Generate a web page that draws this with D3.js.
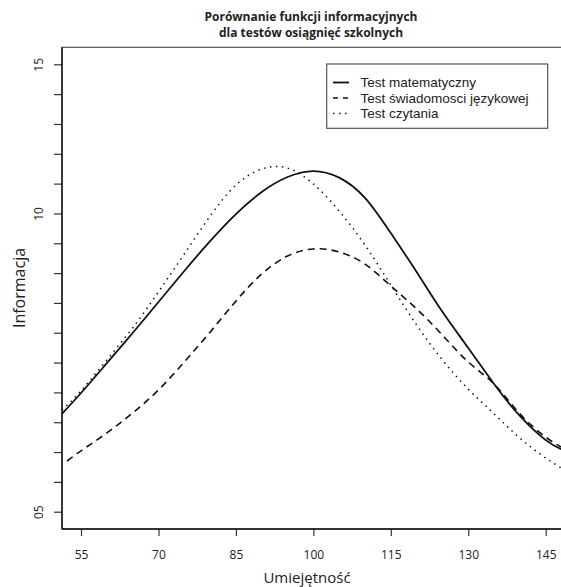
<!DOCTYPE html>
<html>
<head>
<meta charset="utf-8">
<script src="https://cdn.jsdelivr.net/npm/d3@7"></script>
<style>
  html, body { margin: 0; padding: 0; background: #fff; }
  svg { display: block; }
  text { font-family: "Open Sans", "Noto Sans", sans-serif; fill: #222; }
</style>
</head>
<body>
<svg id="chart" width="561" height="587"></svg>
<script>
// ---- data ----
const titleLines = ["Porównanie funkcji informacyjnych", "dla testów osiągnięć szkolnych"];
const xLabel = "Umiejętność";
const yLabel = "Informacja";
const xTicks = [55, 70, 85, 100, 115, 130, 145];
const yTickValues = [0,1,2,3,4,5,6,7,8,9,10,11,12,13,14,15];
const yTickLabels = ["05","","","","","","","","","","10","","","","","15"];
const seriesNames = ["Test matematyczny", "Test świadomosci językowej", "Test czytania"];

const xMath = [51.3, 55, 60, 65, 70, 75, 80, 85, 90, 95, 100, 105, 110, 115, 120, 125, 130, 135, 140, 145, 148];
const yMath = [3.28, 3.98, 4.98, 5.99, 7.03, 8.07, 9.07, 9.98, 10.72, 11.22, 11.42, 11.20, 10.52, 9.34, 8.04, 6.70, 5.49, 4.28, 3.21, 2.40, 2.10];

const xLang = [52.3, 55, 60, 65, 70, 75, 80, 85, 90, 95, 100, 105, 110, 115, 120, 125, 130, 135, 140, 145, 148];
const yLang = [1.70, 2.04, 2.64, 3.31, 4.08, 5.02, 6.02, 7.06, 7.97, 8.57, 8.81, 8.71, 8.30, 7.57, 6.80, 5.92, 5.02, 4.28, 3.28, 2.50, 2.17];

const xRead = [51.3, 55, 60, 65, 70, 75, 80, 85, 90, 95, 100, 105, 110, 115, 120, 125, 130, 135, 140, 145, 148];
const yRead = [3.41, 4.05, 5.09, 6.16, 7.37, 8.64, 9.91, 10.95, 11.49, 11.52, 10.99, 10.08, 8.94, 7.60, 6.26, 5.09, 4.11, 3.28, 2.47, 1.80, 1.47];

// ---- layout ----
const svg = d3.select("#chart");
const plot = { left: 62, top: 47.3, right: 562, bottom: 529 };
const x = d3.scaleLinear().domain([55, 145]).range([81, 545.7]);
const y = d3.scaleLinear().domain([0, 15]).range([511.7, 64.3]);

svg.append("defs").append("clipPath").attr("id", "clip")
  .append("rect").attr("x", plot.left).attr("y", plot.top)
  .attr("width", plot.right - plot.left).attr("height", plot.bottom - plot.top);

// title
svg.append("text").attr("x", 311).attr("y", 21).attr("text-anchor", "middle")
  .style("font-weight", "bold").style("font-size", "12px").text(titleLines[0]);
svg.append("text").attr("x", 311).attr("y", 37).attr("text-anchor", "middle")
  .style("font-weight", "bold").style("font-size", "12px").text(titleLines[1]);

// box
svg.append("rect").attr("x", plot.left).attr("y", plot.top)
  .attr("width", plot.right - plot.left).attr("height", plot.bottom - plot.top)
  .attr("fill", "none").attr("stroke", "#555").attr("stroke-width", 1.2);

// x axis
const xAxis = svg.append("g").attr("transform", `translate(0,${plot.bottom})`)
  .call(d3.axisBottom(x).tickValues(xTicks).tickSize(7).tickPadding(14).tickFormat(d3.format("d")));
xAxis.select(".domain").remove();
xAxis.selectAll(".tick line").attr("stroke", "#333").attr("stroke-width", 1.2);
xAxis.selectAll(".tick text").style("font-size", "12px").style("fill", "#222")
  .style("font-family", "'Open Sans', sans-serif");
svg.append("line").attr("x1", plot.left).attr("x2", plot.right)
  .attr("y1", plot.bottom).attr("y2", plot.bottom).attr("stroke", "#111").attr("stroke-width", 1.4);

// y axis
const yAxis = svg.append("g").attr("transform", `translate(${plot.left},0)`)
  .call(d3.axisLeft(y).tickValues(yTickValues).tickSize(8)
    .tickFormat((d, i) => yTickLabels[i]));
yAxis.select(".domain").remove();
yAxis.selectAll(".tick line").attr("stroke", "#333").attr("stroke-width", 1.2);
yAxis.selectAll(".tick text")
  .attr("x", 0).attr("dy", null)
  .attr("transform", "translate(-19,0) rotate(-90)")
  .attr("text-anchor", "middle")
  .attr("y", 0)
  .style("font-size", "12px").style("fill", "#222")
  .style("font-family", "'Open Sans', sans-serif");
svg.append("line").attr("x1", plot.left).attr("x2", plot.left)
  .attr("y1", plot.top).attr("y2", plot.bottom).attr("stroke", "#111").attr("stroke-width", 1.4);

// axis labels
svg.append("text").attr("x", 307).attr("y", 583).attr("text-anchor", "middle")
  .style("font-size", "15px").text(xLabel);
svg.append("text").attr("transform", "translate(25,288) rotate(-90)")
  .attr("text-anchor", "middle").style("font-size", "16px").text(yLabel);

// curves
const line = d3.line().x(d => x(d[0])).y(d => y(d[1])).curve(d3.curveNatural);
const g = svg.append("g").attr("clip-path", "url(#clip)");
const styles = [
  { dash: null, width: 1.8 },
  { dash: "7,5", width: 1.6 },
  { dash: "1.5,4.5", width: 1.5 }
];
const series = [
  d3.zip(xMath, yMath),
  d3.zip(xLang, yLang),
  d3.zip(xRead, yRead)
];
series.forEach((s, i) => {
  g.append("path").datum(s).attr("d", line)
    .attr("fill", "none").attr("stroke", "#111")
    .attr("stroke-width", styles[i].width)
    .attr("stroke-dasharray", styles[i].dash);
});

// legend
const lg = svg.append("g");
lg.append("rect").attr("x", 326.7).attr("y", 64).attr("width", 221).attr("height", 64.3)
  .attr("fill", "#fff").attr("stroke", "#555").attr("stroke-width", 1.2);
seriesNames.forEach((name, i) => {
  const yy = 82.5 + i * 15.5;
  lg.append("line").attr("x1", 333).attr("x2", 349).attr("y1", yy).attr("y2", yy)
    .attr("stroke", "#111").attr("stroke-width", styles[i].width)
    .attr("stroke-dasharray", i === 1 ? "5,5" : styles[i].dash);
  lg.append("text").attr("x", 360.5).attr("y", yy + 4.5)
    .style("font-family", "'Liberation Sans', Arial, sans-serif")
    .style("font-size", "13.5px").text(name);
});
</script>
</body>
</html>
